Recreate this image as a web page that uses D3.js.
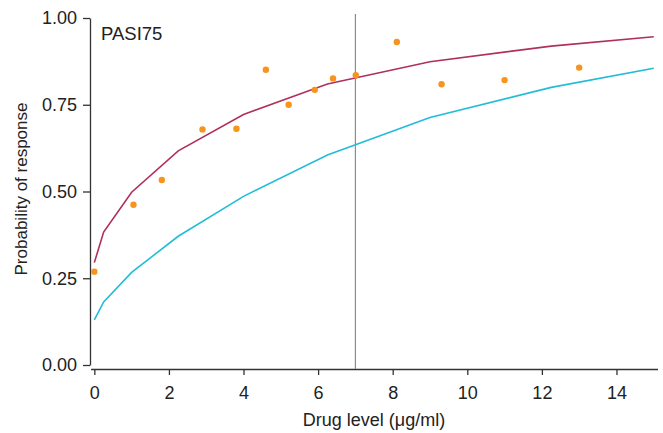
<!DOCTYPE html>
<html>
<head>
<meta charset="utf-8">
<script src="https://cdn.jsdelivr.net/npm/d3@7"></script>
<style>
  body { margin: 0; background: #fff; }
  svg { display: block; font-family: "Liberation Sans", Arial, Helvetica, sans-serif; }
</style>
</head>
<body>
<svg width="663" height="433"></svg>
<script>
// observed responders (dots)
var obsX = [0, 1.05, 1.81, 2.9, 3.81, 4.6, 5.21, 5.91, 6.4, 7.01, 8.11, 9.31, 11.0, 13.0];
var obsY = [0.269, 0.462, 0.533, 0.679, 0.681, 0.851, 0.75, 0.793, 0.826, 0.835, 0.931, 0.809, 0.821, 0.857];

// model curves, evaluated at squared steps
var curveX = [0, 0.25, 1, 2.25, 4, 6.25, 9, 12.25, 15];
var upperY = [0.295, 0.383, 0.498, 0.617, 0.722, 0.81, 0.874, 0.919, 0.946];
var lowerY = [0.130, 0.182, 0.267, 0.371, 0.486, 0.605, 0.713, 0.800, 0.855];

var xTicks = [0, 2, 4, 6, 8, 10, 12, 14];
var yTicks = [0, 0.25, 0.5, 0.75, 1];
var cutoff = 7;

var svg = d3.select("svg");

var x = d3.scaleLinear().domain([-0.1, 15.1]).range([90.6, 657.5]);
var y = d3.scaleLinear().domain([0, 1]).range([365, 18]);

var axisColor = "#333";

// x axis, sits a little below the y=0 line
var gx = svg.append("g")
    .attr("transform", "translate(0,369)")
    .call(d3.axisBottom(x).tickValues(xTicks).tickSize(6).tickPadding(11).tickSizeOuter(0));

// y axis
var gy = svg.append("g")
    .attr("transform", "translate(90,0)")
    .call(d3.axisLeft(y).tickValues(yTicks).tickFormat(d3.format(".2f")).tickSize(7).tickPadding(6).tickSizeOuter(0));

[gx, gy].forEach(function(g) {
  g.select(".domain").attr("stroke", axisColor).attr("stroke-width", 1.3);
  g.selectAll(".tick line").attr("stroke", axisColor).attr("stroke-width", 1.3);
  g.selectAll(".tick text")
    .attr("fill", "#222")
    .style("font-size", "18px")
    .style("font-family", "'Liberation Sans', Arial, sans-serif");
});

// vertical reference line
svg.append("line")
    .attr("x1", x(cutoff)).attr("x2", x(cutoff))
    .attr("y1", 14).attr("y2", 369)
    .attr("stroke", "#8c8c8c")
    .attr("stroke-width", 1.2);

var line = d3.line()
    .x(function(d) { return x(d[0]); })
    .y(function(d) { return y(d[1]); });

svg.append("path")
    .datum(d3.zip(curveX, lowerY))
    .attr("fill", "none")
    .attr("stroke", "#22bcd9")
    .attr("stroke-width", 1.6)
    .attr("d", line);

svg.append("path")
    .datum(d3.zip(curveX, upperY))
    .attr("fill", "none")
    .attr("stroke", "#b02f5e")
    .attr("stroke-width", 1.6)
    .attr("d", line);

svg.selectAll("circle.obs")
    .data(d3.zip(obsX, obsY))
    .enter()
    .append("circle")
    .attr("class", "obs")
    .attr("cx", function(d) { return x(d[0]); })
    .attr("cy", function(d) { return y(d[1]); })
    .attr("r", 3.2)
    .attr("fill", "#f7941d");

// labels
svg.append("text")
    .attr("x", 101).attr("y", 40)
    .attr("fill", "#222")
    .style("font-size", "18.5px")
    .text("PASI75");

svg.append("text")
    .attr("x", 374).attr("y", 426)
    .attr("text-anchor", "middle")
    .attr("fill", "#222")
    .style("font-size", "18px")
    .text("Drug level (\u03bcg/ml)");

svg.append("text")
    .attr("transform", "translate(27,189) rotate(-90)")
    .attr("text-anchor", "middle")
    .attr("fill", "#222")
    .style("font-size", "17px")
    .text("Probability of response");
</script>
</body>
</html>
